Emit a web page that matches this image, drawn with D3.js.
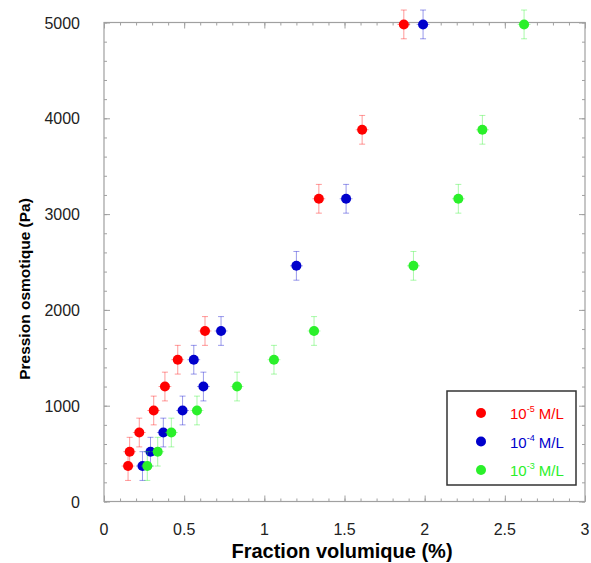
<!DOCTYPE html>
<html lang="fr">
<head>
<meta charset="UTF-8">
<title>pression-osmotique</title>
<style>
  body { margin: 0; background: #fff; }
  svg text { font-family: "Liberation Sans", Arial, sans-serif; }
</style>
</head>
<body>
<div id="container"></div>
<script src="https://cdn.jsdelivr.net/npm/d3@7"></script>
<script>
// values
var series = ["1e-5", "1e-4", "1e-3"];
var seriesExp = ["-5", "-4", "-3"];
var colors = ["#ff0000", "#0000cc", "#2af02a"];

var pressRed   = [370, 520, 720, 950, 1200, 1480, 1780, 3160, 3880, 4980];
var fracRed    = [0.15, 0.16, 0.22, 0.31, 0.38, 0.46, 0.63, 1.34, 1.61, 1.87];
var pressBlue  = [370, 520, 720, 950, 1200, 1480, 1780, 2460, 3160, 4980];
var fracBlue   = [0.24, 0.29, 0.37, 0.49, 0.62, 0.56, 0.73, 1.20, 1.51, 1.99];
var pressGreen = [370, 520, 720, 950, 1200, 1480, 1780, 2460, 3160, 3880, 4980];
var fracGreen  = [0.27, 0.335, 0.42, 0.58, 0.83, 1.06, 1.31, 1.93, 2.21, 2.36, 2.62];

var xTicks = [0, 0.5, 1, 1.5, 2, 2.5, 3];
var yTicks = [0, 1000, 2000, 3000, 4000, 5000];
var errP = 150, errF = 0.04;

var width = 591, height = 563;
var box = {left: 104, right: 585, top: 22.5, bottom: 501.5};

var svg = d3.select("#container").append("svg")
    .attr("width", width)
    .attr("height", height);

var x = d3.scaleLinear().domain([0, 3]).range([box.left, box.right]);
var y = d3.scaleLinear().domain([0, 5000]).range([box.bottom, box.top]);

// frame
svg.append("rect")
    .attr("x", box.left).attr("y", box.top)
    .attr("width", box.right - box.left).attr("height", box.bottom - box.top)
    .attr("fill", "none").attr("stroke", "#a0a0a0").attr("stroke-width", 1.2);

// inward ticks on all four sides
function tickAxis(axisFn, scale, major, minor, transform) {
  var g = svg.append("g").attr("transform", transform);
  g.call(axisFn(scale).tickValues(minor).tickSizeInner(-3).tickSizeOuter(0).tickFormat(""));
  g.append("g").call(axisFn(scale).tickValues(major).tickSizeInner(-6).tickSizeOuter(0).tickFormat(""));
  g.selectAll(".domain").remove();
  g.selectAll("line").attr("stroke", "#a0a0a0");
  return g;
}
var xMinor = d3.range(0, 31).map(function(i) { return i / 10; });
var yMinor = d3.range(0, 26).map(function(i) { return i * 200; });
tickAxis(d3.axisBottom, x, xTicks, xMinor, "translate(0," + box.bottom + ")");
tickAxis(d3.axisTop, x, xTicks, xMinor, "translate(0," + box.top + ")");
tickAxis(d3.axisLeft, y, yTicks, yMinor, "translate(" + box.left + ",0)");
tickAxis(d3.axisRight, y, yTicks, yMinor, "translate(" + box.right + ",0)");

// tick labels
svg.append("g").selectAll("text")
    .data(xTicks).enter().append("text")
    .attr("x", function(d) { return x(d); })
    .attr("y", 535)
    .attr("text-anchor", "middle")
    .attr("font-size", 16)
    .attr("fill", "#222")
    .text(function(d) { return d; });

svg.append("g").selectAll("text")
    .data(yTicks).enter().append("text")
    .attr("x", 80)
    .attr("y", function(d) { return y(d) + 6; })
    .attr("text-anchor", "end")
    .attr("font-size", 16)
    .attr("fill", "#222")
    .text(function(d) { return d; });

// axis titles
svg.append("text")
    .attr("x", 342).attr("y", 558)
    .attr("text-anchor", "middle")
    .attr("font-size", 20).attr("font-weight", "bold")
    .text("Fraction volumique (%)");

svg.append("text")
    .attr("transform", "translate(30,289) rotate(-90)")
    .attr("text-anchor", "middle")
    .attr("font-size", 15.5).attr("font-weight", "bold")
    .text("Pression osmotique (Pa)");

// points with error bars
var data = [
  {press: pressRed, frac: fracRed},
  {press: pressBlue, frac: fracBlue},
  {press: pressGreen, frac: fracGreen}
];

data.forEach(function(s, si) {
  var pts = s.press.map(function(p, i) { return {p: p, f: s.frac[i]}; });
  var g = svg.append("g");
  var eb = g.append("g")
      .attr("stroke", colors[si])
      .attr("stroke-opacity", 0.4)
      .attr("stroke-width", 1);
  eb.selectAll(".v").data(pts).enter().append("line")
      .attr("x1", function(d) { return x(d.f); }).attr("x2", function(d) { return x(d.f); })
      .attr("y1", function(d) { return y(d.p - errP); }).attr("y2", function(d) { return y(d.p + errP); });
  eb.selectAll(".ct").data(pts).enter().append("line")
      .attr("x1", function(d) { return x(d.f) - 3; }).attr("x2", function(d) { return x(d.f) + 3; })
      .attr("y1", function(d) { return y(d.p + errP); }).attr("y2", function(d) { return y(d.p + errP); });
  eb.selectAll(".cb").data(pts).enter().append("line")
      .attr("x1", function(d) { return x(d.f) - 3; }).attr("x2", function(d) { return x(d.f) + 3; })
      .attr("y1", function(d) { return y(d.p - errP); }).attr("y2", function(d) { return y(d.p - errP); });
  eb.selectAll(".h").data(pts).enter().append("line")
      .attr("x1", function(d) { return x(d.f - errF); }).attr("x2", function(d) { return x(d.f + errF); })
      .attr("y1", function(d) { return y(d.p); }).attr("y2", function(d) { return y(d.p); });
  g.selectAll("circle").data(pts).enter().append("circle")
      .attr("cx", function(d) { return x(d.f); })
      .attr("cy", function(d) { return y(d.p); })
      .attr("r", 5)
      .attr("fill", colors[si]);
});

// legend
var lg = svg.append("g");
lg.append("rect")
    .attr("x", 447).attr("y", 391).attr("width", 129).attr("height", 94)
    .attr("fill", "#fff").attr("stroke", "#333").attr("stroke-width", 1.5);
var items = lg.selectAll("g.item").data(series).enter().append("g")
    .attr("transform", function(d, i) { return "translate(0," + (413 + i * 28.5) + ")"; });
items.append("circle")
    .attr("cx", 481).attr("cy", 0).attr("r", 5)
    .attr("fill", function(d, i) { return colors[i]; });
var lt = items.append("text")
    .attr("x", 510).attr("y", 6)
    .attr("font-size", 15)
    .attr("fill", function(d, i) { return colors[i]; });
lt.append("tspan").text("10");
lt.append("tspan").attr("dy", -7).attr("font-size", 9).text(function(d, i) { return seriesExp[i]; });
lt.append("tspan").attr("dy", 7).text(" M/L");
</script>
</body>
</html>
